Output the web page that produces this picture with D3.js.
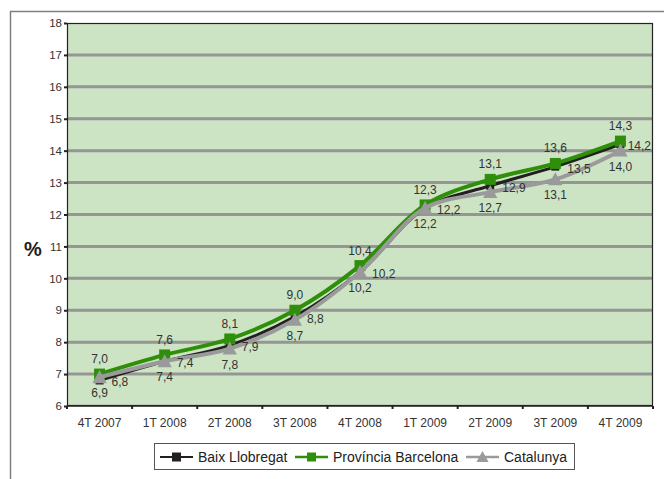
<!DOCTYPE html>
<html><head><meta charset="utf-8">
<script src="https://cdn.jsdelivr.net/npm/d3@7"></script>
<style>body{margin:0;background:#fff;} svg{display:block;} text{font-family:"Liberation Sans",Arial,sans-serif;}</style>
</head><body>
<svg id="c" width="664" height="479"></svg>
<script>
const categories = ["4T 2007","1T 2008","2T 2008","3T 2008","4T 2008","1T 2009","2T 2009","3T 2009","4T 2009"];
const baix = [6.8,7.4,7.9,8.8,10.2,12.2,12.9,13.5,14.2];
const provincia = [7.0,7.6,8.1,9.0,10.4,12.3,13.1,13.6,14.3];
const catalunya = [6.9,7.4,7.8,8.7,10.2,12.2,12.7,13.1,14.0];
const yTicks = [6,7,8,9,10,11,12,13,14,15,16,17,18];
const seriesNames = ["Baix Llobregat","Província Barcelona","Catalunya"];

const fmt = v => v.toFixed(1).replace(".", ",");
const svg = d3.select("#c");
const L=67,R=653,T=23,B=406;
const x = d3.scaleBand().domain(categories).range([L,R]);
const y = d3.scaleLinear().domain([6,18]).range([B,T]);

// outer frame
svg.append("path").attr("d","M10.5,479 V11.5 H664").attr("fill","none").attr("stroke","#7f7f7f").attr("stroke-width",1.5);

svg.append("rect").attr("x",L).attr("y",T).attr("width",R-L).attr("height",B-T).attr("fill","#cce4c4");
// grid
svg.append("g").selectAll("line").data(yTicks.filter(t=>t>6&&t<18)).join("line")
  .attr("x1",L).attr("x2",R).attr("y1",d=>y(d)).attr("y2",d=>y(d))
  .attr("stroke","#959595").attr("stroke-width",3);
svg.append("rect").attr("x",L+0.5).attr("y",T+0.5).attr("width",R-L-1).attr("height",B-T-1).attr("fill","none").attr("stroke","#222").attr("stroke-width",1.2);

// axes
const yAxis = svg.append("g").attr("transform",`translate(${L},0)`)
  .call(d3.axisLeft(y).tickValues(yTicks).tickSize(3).tickPadding(2));
yAxis.attr("font-family",null);
yAxis.select(".domain").attr("stroke","#222");
yAxis.selectAll("line").attr("stroke","#222").attr("stroke-width",2);
yAxis.selectAll("text").attr("font-size",11.5).attr("fill","#333");

const xAxis = svg.append("g").attr("transform",`translate(0,${B})`);
xAxis.append("line").attr("x1",L).attr("x2",R).attr("stroke","#222").attr("stroke-width",1.5);
xAxis.selectAll("line.t").data(d3.range(categories.length+1)).join("line").attr("class","t")
  .attr("x1",i=>L+i*x.step()).attr("x2",i=>L+i*x.step()).attr("y1",0).attr("y2",3)
  .attr("stroke","#222").attr("stroke-width",2);
xAxis.selectAll("text").data(categories).join("text")
  .attr("x",d=>x(d)+x.bandwidth()/2).attr("y",21).attr("text-anchor","middle")
  .attr("font-size",12).attr("fill","#333").text(d=>d);

svg.append("text").attr("x",33).attr("y",256).attr("text-anchor","middle").attr("font-size",20).attr("font-weight","bold").attr("fill","#222").text("%");

const cx = i => x(categories[i])+x.bandwidth()/2;
const line = d3.line().x((d,i)=>cx(i)).y(d=>y(d)).curve(d3.curveCatmullRom.alpha(0.5));
const series = [
  {name:seriesNames[0],data:baix,color:"#231f20",w:3,marker:"square",size:8},
  {name:seriesNames[1],data:provincia,color:"#2f8f0a",w:4,marker:"square",size:11},
  {name:seriesNames[2],data:catalunya,color:"#9a9a9a",w:4,marker:"triangle",size:13},
];
const markerPath = (m,s)=> m==="square" ? `M${-s/2},${-s/2}h${s}v${s}h${-s}Z` : `M0,${-s*0.55}L${s*0.55},${s*0.45}L${-s*0.55},${s*0.45}Z`;
series.forEach(s=>{
  svg.append("path").attr("d",line(s.data)).attr("fill","none").attr("stroke",s.color).attr("stroke-width",s.w).attr("stroke-linejoin","round");
  svg.append("g").selectAll("path").data(s.data).join("path")
    .attr("transform",(d,i)=>`translate(${cx(i)},${y(d)})`).attr("d",markerPath(s.marker,s.size)).attr("fill",s.color);
});
// labels
const lab = svg.append("g").attr("font-size",12).attr("fill","#333");
provincia.forEach((v,i)=>lab.append("text").attr("x",cx(i)).attr("y",y(v)-11).attr("text-anchor","middle").text(fmt(v)));
baix.forEach((v,i)=>{
  const t=lab.append("text").attr("x",cx(i)+12).attr("y",y(v)+6).attr("text-anchor","start").text(fmt(v));
  const w=t.node().getComputedTextLength();
  if(cx(i)+12+w>R-2) t.attr("x",R-2-w);
});
catalunya.forEach((v,i)=>lab.append("text").attr("x",cx(i)).attr("y",y(v)+20).attr("text-anchor","middle").text(fmt(v)));

// legend
const lg = svg.append("g");
lg.append("rect").attr("x",154.5).attr("y",443.5).attr("width",420).attr("height",26).attr("fill","#fff").attr("stroke","#555").attr("stroke-width",1);
const lx=[160,295,466];
series.forEach((s,i)=>{
  const g=lg.append("g").attr("transform",`translate(${lx[i]},457)`);
  g.append("line").attr("x1",0).attr("x2",33).attr("stroke",s.color).attr("stroke-width",s.w>3?2.5:2);
  g.append("path").attr("transform","translate(16.5,0)").attr("d",markerPath(s.marker,s.marker==="square"?9:11)).attr("fill",s.color);
  g.append("text").attr("x",38).attr("y",5).attr("font-size",14).attr("fill","#222").text(s.name);
});
</script>
</body></html>
